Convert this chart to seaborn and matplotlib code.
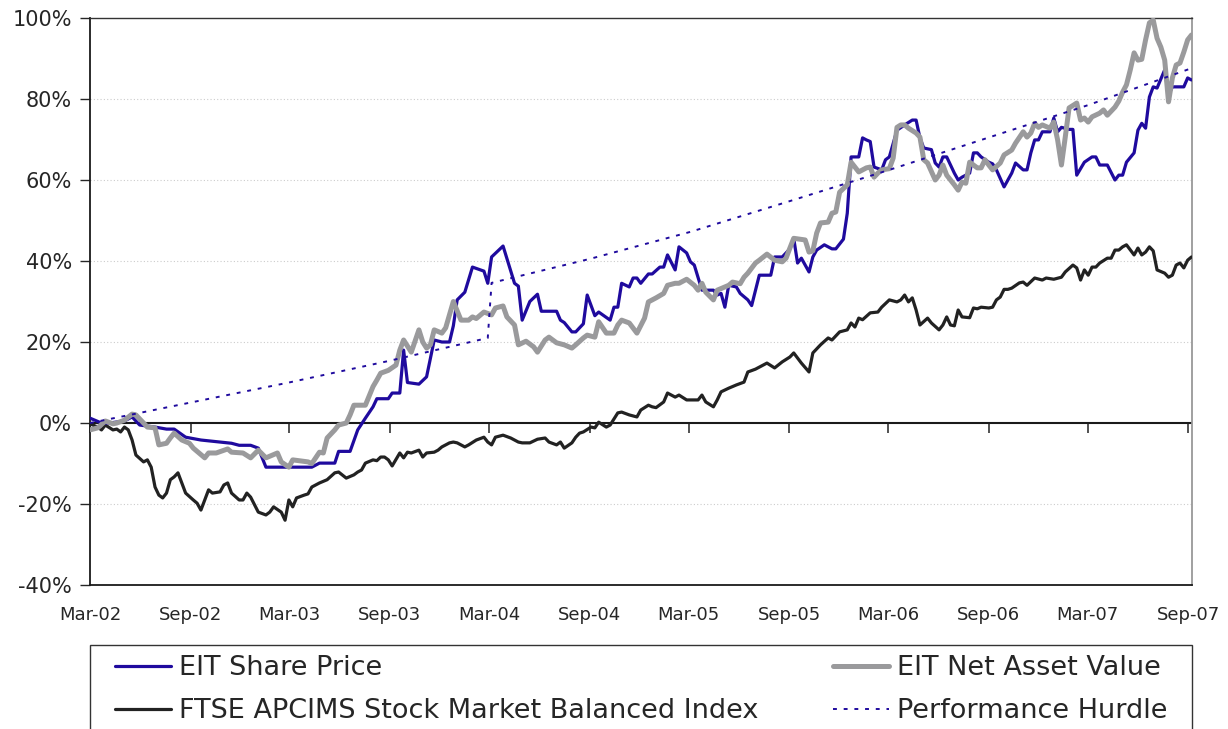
import numpy as np
import pandas as pd
import matplotlib.pyplot as plt
import matplotlib.dates as mdates
from matplotlib.patches import Rectangle
from matplotlib.ticker import FuncFormatter, MultipleLocator
import seaborn as sns

sns.set_style("white")
plt.rcParams['font.family'] = ['DejaVu Sans']

# Observation dates are weeks since 1 March 2002, values are cumulative % returns
start = pd.Timestamp('2002-03-01')

price_weeks = [0, 3, 5, 9, 11, 13, 17, 20, 22, 25, 29, 37, 39, 42, 44, 46, 58, 60, 64, 65,
               68, 70, 72, 74, 75, 78, 79, 81, 82, 83, 86, 88, 90, 92, 94, 95, 96, 98, 100, 103,
               104, 105, 108, 111, 112, 113, 115, 117, 118, 122, 123, 124, 126, 127, 129, 130, 132, 133, 136, 137,
               138, 139, 141, 142, 143, 144, 146, 147, 149, 150, 151, 153, 154, 156, 157, 158, 160, 163, 164, 165,
               166, 167, 169, 170, 172, 173, 175, 178, 179, 181, 183, 184, 185, 186, 188, 189, 190, 192, 194, 195,
               197, 198, 199, 201, 202, 203, 204, 205, 207, 208, 209, 211, 213, 215, 216, 217, 218, 220, 221, 222,
               223, 224, 226, 227, 228, 230, 231, 232, 233, 235, 236, 237, 239, 241, 242, 244, 245, 246, 247, 248,
               249, 251, 252, 253, 254, 256, 257, 258, 260, 262, 263, 264, 266, 268, 269, 270, 271, 273, 274, 275,
               276, 277, 278, 279, 281, 282, 283, 286, 287, 288]
price_vals = [1.2, 0.0, 0.0, 0.5, 1.5, -0.5, -1.0, -1.5, -1.5, -3.5, -4.2, -5.0, -5.5, -5.5, -6.2, -10.9, -10.9, -9.9, -9.9, -7.0,
              -7.0, -1.7, 1.2, 4.0, 6.0, 6.0, 7.4, 7.4, 18.0, 10.0, 9.6, 11.4, 20.5, 20.0, 20.0, 24.0, 30.4, 32.3, 38.5, 37.5,
              34.5, 41.0, 43.7, 34.5, 33.8, 25.4, 30.0, 31.8, 27.6, 27.6, 25.4, 24.8, 22.5, 22.5, 24.5, 31.6, 26.5, 27.4, 25.4, 28.6,
              28.6, 34.5, 33.6, 35.8, 35.8, 34.5, 36.8, 36.8, 38.5, 38.5, 41.5, 37.8, 43.5, 42.0, 39.8, 39.0, 32.8, 32.8, 31.6, 32.0,
              28.6, 34.0, 33.6, 32.0, 30.4, 29.0, 36.5, 36.5, 41.0, 41.0, 43.0, 45.6, 39.5, 40.7, 37.3, 41.0, 42.7, 44.0, 43.0, 43.0,
              45.4, 51.8, 65.7, 65.7, 70.4, 69.9, 69.5, 63.2, 62.5, 65.0, 65.7, 72.3, 73.6, 74.8, 74.8, 70.4, 67.9, 67.5, 64.2, 63.2,
              65.7, 65.7, 61.7, 60.0, 60.7, 61.7, 66.7, 66.7, 65.7, 64.4, 64.0, 62.5, 58.3, 61.7, 64.2, 62.5, 62.5, 66.7, 69.9, 69.9,
              71.9, 71.9, 75.3, 71.9, 73.0, 72.5, 72.5, 61.2, 64.4, 65.7, 65.7, 63.7, 63.7, 60.0, 61.2, 61.2, 64.4, 66.7, 72.3, 74.0,
              72.8, 80.5, 83.0, 82.7, 87.2, 81.0, 83.0, 83.0, 85.2, 84.7]

nav_weeks = [0, 2, 4, 6, 7, 9, 11, 12, 14, 15, 17, 18, 20, 21, 22, 24, 26, 27, 30, 31,
             33, 36, 37, 40, 42, 44, 46, 49, 50, 52, 53, 57, 58, 60, 61, 62, 64, 65, 67, 68,
             69, 72, 74, 75, 76, 78, 80, 81, 82, 84, 86, 87, 88, 89, 90, 92, 93, 95, 97, 99,
             100, 101, 103, 105, 106, 108, 109, 111, 112, 114, 116, 117, 119, 120, 122, 124, 126, 127, 129, 130,
             132, 133, 135, 137, 138, 139, 141, 143, 145, 146, 148, 150, 151, 153, 154, 156, 158, 159, 160, 161,
             163, 164, 167, 168, 170, 171, 172, 174, 175, 177, 179, 181, 182, 183, 184, 187, 188, 189, 190, 191,
             193, 194, 195, 196, 198, 199, 201, 203, 204, 205, 206, 207, 209, 210, 211, 212, 213, 214, 216, 217,
             218, 219, 221, 222, 223, 224, 226, 227, 228, 229, 230, 232, 233, 234, 235, 236, 238, 239, 241, 242,
             244, 245, 246, 247, 248, 249, 251, 252, 253, 254, 255, 256, 258, 259, 260, 261, 262, 264, 265, 266,
             268, 269, 270, 271, 272, 273, 274, 275, 276, 277, 278, 279, 280, 281, 282, 283, 284, 285, 286, 287,
             288]
nav_vals = [-1.7, -1.2, 0.5, -0.2, 0.0, 0.7, 2.2, 2.0, 0.0, -1.0, -1.2, -5.4, -5.0, -3.7, -2.5, -4.2, -5.0, -6.2, -8.6, -7.4,
            -7.4, -6.4, -7.2, -7.4, -8.6, -6.7, -8.6, -7.4, -9.6, -10.9, -9.1, -9.6, -10.0, -7.2, -7.4, -3.7, -1.7, -0.5, 0.0, 2.0,
            4.4, 4.4, 9.0, 10.6, 12.3, 13.0, 14.3, 18.0, 20.5, 17.5, 23.0, 20.0, 18.5, 19.3, 23.0, 22.2, 23.5, 30.0, 25.4, 25.4,
            26.2, 25.8, 27.4, 26.7, 28.4, 28.9, 26.2, 24.2, 19.3, 20.2, 18.8, 17.5, 20.5, 21.2, 19.8, 19.3, 18.5, 19.3, 21.0, 21.7,
            21.2, 25.0, 22.2, 22.2, 24.2, 25.4, 24.7, 22.2, 25.9, 29.9, 30.9, 32.0, 34.0, 34.5, 34.5, 35.5, 34.0, 32.8, 34.5, 32.3,
            30.4, 32.8, 34.0, 34.8, 34.4, 36.0, 37.0, 39.5, 40.2, 41.7, 40.2, 39.8, 40.7, 43.2, 45.6, 45.2, 42.2, 42.5, 46.9, 49.4,
            49.6, 51.8, 52.1, 57.0, 58.8, 64.4, 62.0, 63.0, 63.2, 60.7, 61.7, 62.5, 62.8, 65.4, 73.0, 73.6, 73.6, 72.8, 71.6, 70.6,
            65.0, 64.2, 60.0, 61.2, 63.7, 61.2, 58.8, 57.5, 59.5, 59.2, 64.4, 63.0, 63.0, 65.0, 63.7, 62.5, 64.2, 66.2, 67.4, 69.1,
            71.9, 70.6, 71.6, 74.0, 73.0, 73.6, 72.8, 74.3, 69.9, 63.7, 70.6, 77.8, 79.0, 74.8, 75.3, 74.3, 75.6, 76.5, 77.3, 76.0,
            78.0, 79.5, 81.7, 83.5, 87.2, 91.4, 89.6, 89.8, 94.6, 98.8, 99.5, 95.0, 92.8, 89.6, 79.3, 85.2, 88.4, 88.9, 91.6, 94.6,
            95.8]

ftse_weeks = [0, 2, 3, 4, 6, 7, 8, 9, 10, 11, 12, 14, 15, 16, 17, 18, 19, 20, 21, 22,
              23, 24, 25, 27, 28, 29, 31, 32, 34, 35, 36, 37, 39, 40, 41, 42, 44, 46, 47, 48,
              50, 51, 52, 53, 54, 56, 57, 58, 60, 62, 64, 65, 67, 69, 70, 71, 72, 74, 75, 76,
              77, 78, 79, 81, 82, 83, 84, 86, 87, 88, 90, 91, 92, 94, 95, 96, 98, 99, 101, 103,
              104, 105, 106, 108, 110, 112, 113, 115, 117, 119, 120, 122, 123, 124, 126, 127, 128, 129, 131, 132,
              133, 135, 136, 138, 139, 141, 143, 144, 146, 147, 148, 150, 151, 153, 154, 156, 159, 160, 161, 163,
              164, 165, 167, 169, 171, 172, 174, 175, 177, 179, 181, 183, 184, 186, 188, 189, 191, 193, 194, 196,
              198, 199, 200, 201, 202, 204, 206, 207, 209, 211, 212, 213, 214, 215, 216, 217, 219, 220, 222, 223,
              224, 225, 226, 227, 228, 230, 231, 232, 233, 235, 236, 237, 238, 239, 240, 241, 243, 244, 245, 247,
              249, 250, 252, 254, 255, 257, 258, 259, 260, 261, 262, 263, 264, 266, 267, 268, 269, 270, 271, 273,
              274, 275, 276, 277, 278, 279, 281, 282, 283, 284, 285, 286, 287, 288]
ftse_vals = [-0.2, -1.0, -1.7, -0.5, -1.7, -1.5, -2.2, -1.0, -1.7, -4.2, -7.9, -9.6, -9.1, -10.9, -15.8, -17.8, -18.5, -17.3, -14.0, -13.3,
             -12.3, -14.8, -17.3, -19.0, -19.8, -21.5, -16.5, -17.3, -17.0, -15.3, -14.8, -17.3, -19.0, -19.0, -17.3, -18.3, -22.0, -22.7, -22.0, -20.7,
             -22.0, -24.0, -19.0, -20.7, -18.5, -17.8, -17.5, -15.8, -14.8, -14.0, -12.3, -12.1, -13.6, -12.8, -12.1, -11.6, -9.9, -9.1, -9.3, -8.4,
             -8.4, -9.1, -10.6, -7.4, -8.6, -7.2, -7.4, -6.7, -8.4, -7.4, -7.2, -6.7, -5.9, -4.9, -4.7, -4.9, -5.9, -5.4, -4.2, -3.5,
             -4.7, -5.4, -3.5, -3.0, -3.7, -4.7, -4.9, -4.9, -4.0, -3.7, -4.7, -5.4, -4.7, -6.2, -4.9, -3.5, -2.5, -2.2, -1.0, -1.2,
             0.2, -1.0, -0.5, 2.5, 2.7, 2.0, 1.5, 3.2, 4.4, 4.0, 3.8, 5.2, 7.4, 6.4, 6.9, 5.7, 5.7, 6.9, 5.2, 4.0,
             5.7, 7.7, 8.6, 9.4, 10.1, 12.6, 13.3, 13.8, 14.8, 13.6, 15.1, 16.3, 17.3, 14.8, 12.6, 17.3, 19.3, 21.0, 20.5, 22.5,
             23.0, 24.7, 23.7, 25.9, 25.5, 27.2, 27.4, 28.6, 30.4, 29.9, 30.4, 31.6, 29.9, 30.9, 27.9, 24.2, 25.9, 24.7, 23.0, 24.2,
             26.2, 24.2, 24.0, 27.9, 26.2, 26.0, 28.4, 28.2, 28.6, 28.4, 28.6, 30.4, 31.1, 33.0, 33.0, 33.3, 34.6, 34.8, 34.0, 35.8,
             35.3, 35.8, 35.5, 36.0, 37.3, 39.0, 38.3, 35.3, 37.8, 36.5, 38.5, 38.5, 39.5, 40.7, 40.7, 42.7, 42.7, 43.5, 44.0, 41.5,
             43.2, 41.5, 42.2, 43.5, 42.5, 37.8, 37.0, 36.0, 36.5, 39.0, 39.5, 38.3, 40.2, 41.0]

hurdle_weeks = [0, 26, 52, 78, 104, 105, 131, 157, 183, 209, 235, 261, 288]
hurdle_vals = [0.0, 5.0, 10.0, 15.3, 21.0, 34.6, 40.6, 47.2, 54.8, 62.5, 70.5, 78.5, 87.6]


def make_frame(weeks, vals):
    dates = start + pd.to_timedelta(np.array(weeks) * 7, unit='D')
    return pd.DataFrame({'date': dates, 'value': vals})


price = make_frame(price_weeks, price_vals)
nav = make_frame(nav_weeks, nav_vals)
ftse = make_frame(ftse_weeks, ftse_vals)
hurdle = make_frame(hurdle_weeks, hurdle_vals)

fig = plt.figure(figsize=(12.28, 7.29), dpi=100)
ax = fig.add_axes([0.0733, 0.1975, 0.8974, 0.7778])

blue = '#1f0a9e'
grey = '#9a9a9c'
dark = '#222222'

sns.lineplot(data=ftse, x='date', y='value', ax=ax, color=dark, linewidth=2.3,
             label='FTSE APCIMS Stock Market Balanced Index', zorder=3)
sns.lineplot(data=price, x='date', y='value', ax=ax, color=blue, linewidth=2.3,
             label='EIT Share Price', zorder=4)
sns.lineplot(data=nav, x='date', y='value', ax=ax, color=grey, linewidth=3.6,
             label='EIT Net Asset Value', zorder=5)
sns.lineplot(data=hurdle, x='date', y='value', ax=ax, color=blue, linewidth=1.4,
             linestyle=(0, (2, 3.5)), label='Performance Hurdle', zorder=6)

# axes limits and ticks
ax.set_xlim(start, pd.Timestamp('2007-09-08'))
ax.set_ylim(-40, 100)
ax.yaxis.set_major_locator(MultipleLocator(20))
ax.yaxis.set_major_formatter(FuncFormatter(lambda v, p: f'{v:.0f}%'))
ax.xaxis.set_major_locator(mdates.MonthLocator(bymonth=[3, 9]))
ax.xaxis.set_major_formatter(mdates.DateFormatter('%b-%y'))
ax.set_xlabel('')
ax.set_ylabel('')

ax.tick_params(axis='y', labelsize=15, length=7, width=1, direction='out', left=True, pad=6)
ax.tick_params(axis='x', labelsize=13, length=0, pad=15)

# dotted gridlines
for v in [-20, 20, 40, 60, 80]:
    ax.axhline(v, color='#cccccc', linewidth=0.8, linestyle=(0, (1, 2)), zorder=1)

# zero line with tick marks
ax.axhline(0, color='#1a1a1a', linewidth=1.5, zorder=2)
zero_axis = ax.secondary_xaxis(40 / 140)
zero_axis.xaxis.set_major_locator(mdates.MonthLocator(bymonth=[3, 9]))
zero_axis.tick_params(length=7, width=1.2, direction='out', labelbottom=False, colors='#333333')
zero_axis.spines['bottom'].set_visible(False)

for side in ['left', 'bottom']:
    ax.spines[side].set_color('#1a1a1a')
    ax.spines[side].set_linewidth(1.3)
ax.spines['top'].set_color('#333333')
ax.spines['top'].set_linewidth(1.0)
ax.spines['right'].set_color('#999999')
ax.spines['right'].set_linewidth(1.3)

# legend below the plot, its box runs off the bottom of the figure
handles, labels = ax.get_legend_handles_labels()
order = [labels.index('EIT Share Price'),
         labels.index('FTSE APCIMS Stock Market Balanced Index'),
         labels.index('EIT Net Asset Value'),
         labels.index('Performance Hurdle')]
ax.get_legend().remove()
fig.add_artist(Rectangle((0.0733, -0.05), 0.8974, 0.1652, transform=fig.transFigure,
                         facecolor='white', edgecolor='#333333', linewidth=1.0))
fig.legend([handles[i] for i in order], [labels[i] for i in order],
           loc='upper left', bbox_to_anchor=(0.0896, -0.2, 0.8656, 0.3084),
           mode='expand', ncol=2, fontsize=19.5, frameon=False,
           handlelength=2.05, handletextpad=0.3, labelspacing=0.62,
           borderpad=0.2, borderaxespad=0)

fig.savefig('out.png', dpi=100)
